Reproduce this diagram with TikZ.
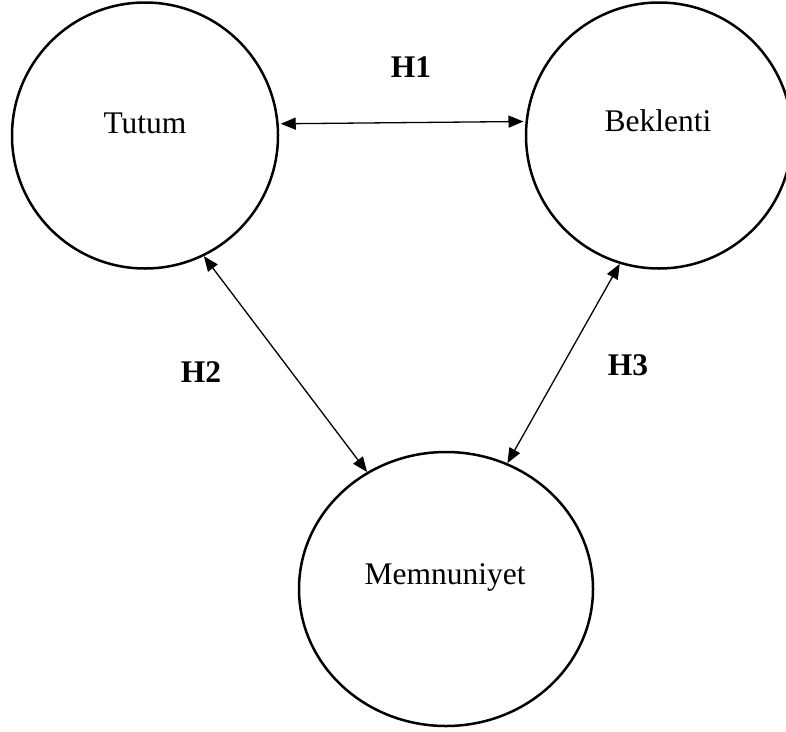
\documentclass[tikz,border=0pt]{standalone}
\usepackage{fontspec}
\setmainfont{Liberation Serif}
\usetikzlibrary{arrows.meta,shapes.geometric}

\begin{document}
\begin{tikzpicture}[x=1pt,y=-1pt,
  construct/.style={draw=black,line width=2.5pt,circle,minimum size=266pt,inner sep=0pt},
  outcome/.style={draw=black,line width=2.5pt,ellipse,minimum width=294pt,minimum height=274pt,inner sep=0pt},
  name text/.style={anchor=base,inner sep=0pt,font=\fontsize{31.5}{36}\selectfont},
  hyp text/.style={anchor=base,inner sep=0pt,font=\fontsize{31.5}{36}\selectfont\bfseries},
  link/.style={line width=1.3pt,{Triangle[length=15pt,width=12pt]}-{Triangle[length=15pt,width=12pt]}}
]
\useasboundingbox (0,0) rectangle (786,731);

% constructs
\node[construct] (tutum) at (145,135.5) {};
\node[construct] (beklenti) at (659,135.5) {};
\node[outcome] (memnuniyet) at (446,589) {};

% construct names
\node[name text] (tutumname) at (145,133) {Tutum};
\node[name text] (beklentiname) at (658,131) {Beklenti};
\node[name text] (memnuniyetname) at (445,584) {Memnuniyet};

% hypothesised relations
\draw[link,shorten <=2pt,shorten >=2pt] (tutum.5.4) -- (beklenti.174.6);
\draw[link] (tutum.-64.6) -- (memnuniyet.124.5);
\draw[link] (beklenti.-107.5) -- (memnuniyet.64.5);

% hypothesis labels
\node[hyp text] (h1) at (411,77) {H1};
\node[hyp text] (h2) at (201,382) {H2};
\node[hyp text] (h3) at (628,375) {H3};
\end{tikzpicture}
\end{document}
